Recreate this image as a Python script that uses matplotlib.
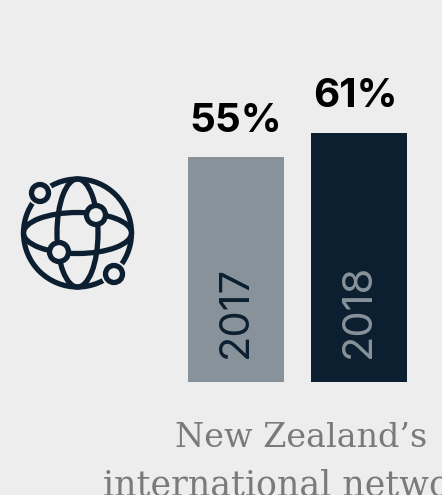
import matplotlib.pyplot as plt
from matplotlib.patches import Circle, Ellipse

years = ['2017', '2018']
values = [55, 61]
value_labels = ['55%', '61%']
bar_colors = ['#87929a', '#0c1f30']
year_colors = ['#0c1f30', '#87929a']
caption = ['New Zealand\u2019s', 'international network']

W, H = 442, 495
bg = '#ededed'
navy = '#0c1f30'

fig = plt.figure(figsize=(W / 100, H / 100), dpi=100, facecolor=bg)

# bar axes, 0% sits at y=382px and one percent is about 4.085px
bottom_px, top_px = 382, 40
ax = fig.add_axes([176 / W, (H - bottom_px) / H, 243 / W, (bottom_px - top_px) / H])
ax.set_xlim(-0.39 - 12 / 123, 1.39 + 12 / 123)
ax.set_ylim(0, (bottom_px - top_px) / 4.085)
ax.axis('off')

ax.bar(range(2), values, width=96 / 123, color=bar_colors)
label_shift = [0, -4]  # px, the 61% sits a bit left of its bar centre
for i in range(2):
    ax.annotate(value_labels[i], (i, values[i]), xytext=(label_shift[i] * 0.72, 12.8),
                textcoords='offset points', ha='center', va='bottom',
                fontsize=29, fontweight='bold', family='Inter', color='black')
    ax.text(i, 5.8, years[i], ha='center', va='bottom', rotation=90,
            fontsize=30, family='Inter', fontweight='normal', color=year_colors[i])

# globe icon, in pixel coordinates over the whole figure
icon = fig.add_axes([0, 0, 1, 1])
icon.set_xlim(0, W)
icon.set_ylim(H, 0)
icon.axis('off')
icon.patch.set_alpha(0)

lw = 3.8
cx, cy = 77.5, 233
icon.add_patch(Circle((cx, cy), 54, fill=False, ec=navy, lw=lw))
icon.add_patch(Ellipse((cx, cy), 41, 108, fill=False, ec=navy, lw=lw))
icon.add_patch(Ellipse((cx, cy), 108, 41, fill=False, ec=navy, lw=lw))
# x, y, ring radius, gap cut around the ring
for x, y, r, gap in [(40, 193, 8.5, 4.5), (96, 215, 9.5, 0), (59, 252, 9.5, 0), (114, 274, 8.5, 4.5)]:
    if gap:
        icon.add_patch(Circle((x, y), r + gap, fc=bg, ec='none', zorder=3))
    icon.add_patch(Circle((x, y), r, fc=bg, ec=navy, lw=lw, zorder=4))

# caption runs off the edge of the picture
icon.text(301, 447, caption[0], ha='center', va='baseline', fontsize=24,
          family='DejaVu Serif', fontweight='light', color='#7a7a7a')
icon.text(103, 495, caption[1], ha='left', va='baseline', fontsize=25,
          family='DejaVu Serif', fontweight='light', color='#7a7a7a')

fig.savefig('out.png', dpi=100, facecolor=bg)
